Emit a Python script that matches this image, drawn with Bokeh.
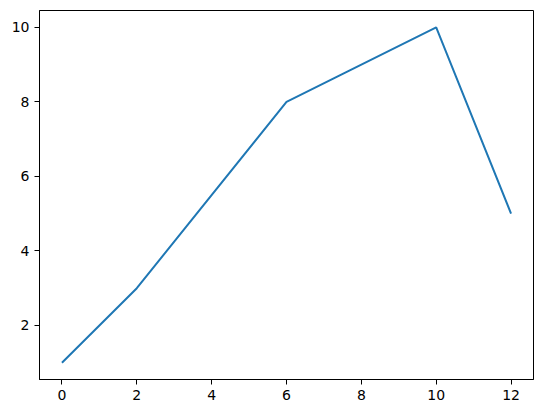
from bokeh.plotting import figure
from bokeh.embed import file_html
from bokeh.resources import INLINE
from bokeh.models import Range1d, FixedTicker

x_vals = [0, 2, 6, 10, 12]
y_vals = [1, 3, 8, 10, 5]
x_ticks = [0, 2, 4, 6, 8, 10, 12]
y_ticks = [2, 4, 6, 8, 10]

p = figure(frame_width=494, frame_height=369, output_backend="svg", toolbar_location=None,
           x_range=Range1d(-0.6, 12.6), y_range=Range1d(0.55, 10.45),
           min_border_left=39, min_border_right=4, min_border_top=10, min_border_bottom=29)
p.line(x_vals, y_vals, line_color="#1f77b4", line_width=2)

p.xgrid.visible = False
p.ygrid.visible = False
p.outline_line_color = "black"
p.outline_line_width = 1
p.outline_line_alpha = 1
p.background_fill_color = "white"
p.border_fill_color = "white"

p.xaxis.ticker = FixedTicker(ticks=x_ticks)
p.yaxis.ticker = FixedTicker(ticks=y_ticks)
for ax in (p.xaxis[0], p.yaxis[0]):
    ax.major_tick_out = 5
    ax.major_tick_in = 0
    ax.minor_tick_out = 0
    ax.minor_tick_in = 0
    ax.axis_line_color = "black"
    ax.major_tick_line_color = "black"
    ax.major_label_text_font = "DejaVu Sans"
    ax.major_label_text_font_size = "14px"
    ax.major_label_text_color = "black"
    ax.major_label_standoff = 5

open("out.html", "w").write(file_html(p, INLINE))
